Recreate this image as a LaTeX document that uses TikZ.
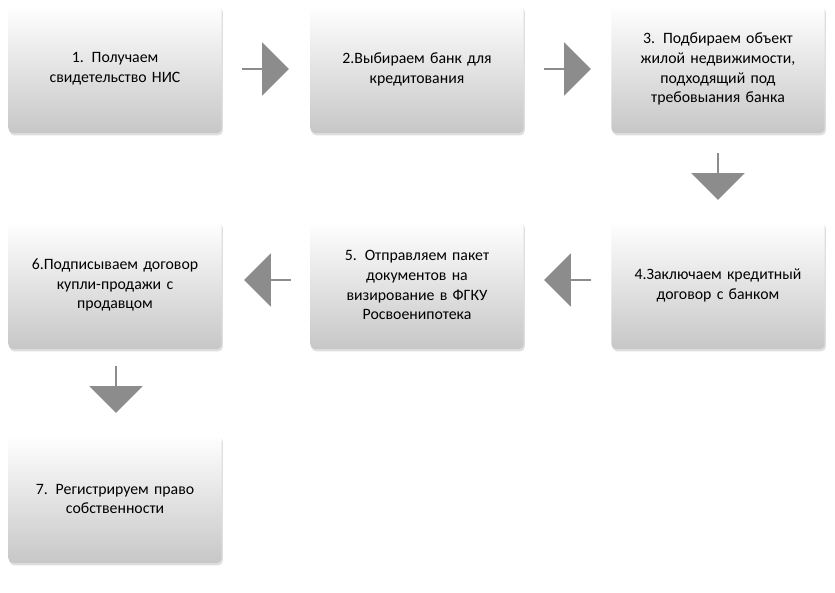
\documentclass[tikz,border=0pt]{standalone}
\usepackage{fontspec}
\setmainfont{Carlito}
\usetikzlibrary{shapes.arrows,shadows}
\tikzset{stepbox/.style={rectangle,rounded corners=4pt,minimum width=6.4cm,minimum height=3.84cm,
           align=center,text width=6cm,top color=white,bottom color=black!22,draw=none,
           drop shadow={shadow xshift=1pt,shadow yshift=-2pt,opacity=0.25},
           font=\fontsize{13.5}{17}\selectfont},
         flow/.style={single arrow,fill=black!45,draw=none,minimum height=1.4cm,
           minimum width=1.6cm,single arrow head extend=0.2cm,inner sep=0pt}
         }
\begin{document}
\begin{tikzpicture}[x=0.03cm,y=-0.03cm]
\useasboundingbox[fill=white] (0,0) rectangle (835,593);
\node[stepbox] (s1) at (115,69) {1. Получаем\\свидетельство НИС};
\node[stepbox] (s2) at (417,69) {2.Выбираем банк для\\кредитования};
\node[stepbox] (s3) at (718,69) {3. Подбираем объект\\жилой  недвижимости,\\подходящий под\\требовыания банка};
\node[stepbox] (s4) at (718,285) {4.Заключаем кредитный\\договор с банком};
\node[stepbox] (s5) at (417,285) {5. Отправляем пакет\\документов на\\визирование в ФГКУ\\Росвоенипотека};
\node[stepbox] (s6) at (115,285) {6.Подписываем договор\\купли-продажи с\\продавцом};
\node[stepbox] (s7) at (115,499) {7. Регистрируем право\\собственности};
% arrows between steps
\node[flow] (a12) at (265,69) {};
\node[flow] (a23) at (567,69) {};
\node[flow,rotate=-90] (a34) at (718,176) {};
\node[flow,rotate=180] (a45) at (568,280) {};
\node[flow,rotate=180] (a56) at (268,280) {};
\node[flow,rotate=-90] (a67) at (116,389) {};
\end{tikzpicture}
\end{document}
